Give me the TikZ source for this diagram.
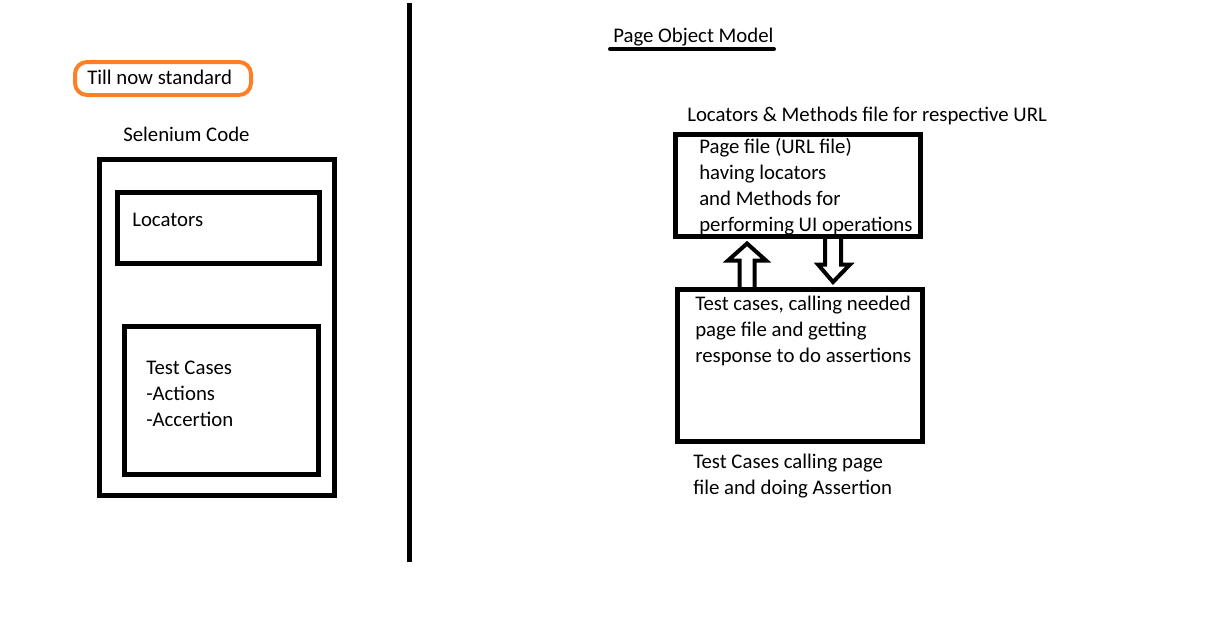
\documentclass[tikz,border=0pt]{standalone}
\usepackage{fontspec}
\setmainfont{Carlito}
\usepackage{xcolor}
\usepackage{tikz}
\usetikzlibrary{positioning,calc,fit}
\definecolor{paintorange}{HTML}{FF7F27}
\tikzset{
  blk/.style={rectangle, draw=black, line width=3.75pt, inner sep=0pt, fit={#1}},
  tagbox/.style={rectangle, rounded corners=9pt, draw=paintorange, line width=3pt,
                 inner sep=0pt, fit={#1}},
  txt/.style={font=\fontsize{15.6}{19.5}\selectfont, align=left, inner sep=0pt,
              anchor=base west},
  hollow/.style={draw=black, line width=3pt, line join=miter},
  divider/.style={draw=black, line width=3.75pt},
  uline/.style={draw=black, line width=3pt, line cap=round},
}
\begin{document}
\begin{tikzpicture}[x=0.75pt, y=-0.75pt]
  \useasboundingbox (0,0) rectangle (1216,640);

  \node[tagbox={(75,62) (251,95)}] (tag) {};
  \node[txt] (tagtext) at (87,84) {Till now standard};

  \node[txt] (selcap) at (123,141) {Selenium Code};
  \node[blk={(99.5,159.5) (334.5,495)}] (selenium) {};
  \node[blk={(117.5,192.5) (319.5,263.5)}] (locs) {};
  \node[txt] (locstext) at (132,226) {Locators};
  \node[blk={(124.5,326.5) (318.5,474.5)}] (cases) {};
  \node[txt] (casestext) at (146,426) {Test Cases\\-Actions\\-Accertion};

  \coordinate (divtop) at (409.5,3);
  \coordinate (divbot) at (409.5,562);
  \draw[divider] (divtop) -- (divbot);

  \node[txt] (pom) at (613,42) {Page Object Model};
  \draw[uline] (610,49) -- (774,49);

  \node[txt] (pagecap) at (687,121) {Locators \& Methods file for respective URL};
  \node[blk={(675.5,134.5) (920.5,236)}] (page) {};
  \node[txt] (pagetext) at (699,231) {Page file (URL file)\\having locators\\and Methods for\\performing UI operations};

  \node[blk={(677.5,289.5) (922.5,441)}] (tests) {};
  \node[txt] (teststext) at (695,362) {Test cases, calling needed\\page file and getting\\response to do assertions};
  \node[txt] (testscap) at (693,494) {Test Cases calling page\\file and doing Assertion};

  \draw[hollow] ($(tests.north)+(-60.5,0)$) -- ++(0,-26.5) -- ++(-11.5,0)
    -- ($(page.south)+(-51,5)$) -- ($(tests.north)+(-34,-26.5)$) -- ++(-11.5,0)
    -- ($(tests.north)+(-45.5,0)$);
  \draw[hollow] ($(page.south)+(27,0)$) -- ++(0,26) -- ++(-7,0)
    -- ($(tests.north)+(33,-5)$) -- ($(page.south)+(52,26)$) -- ++(-9,0)
    -- ($(page.south)+(43,0)$);
\end{tikzpicture}
\end{document}
